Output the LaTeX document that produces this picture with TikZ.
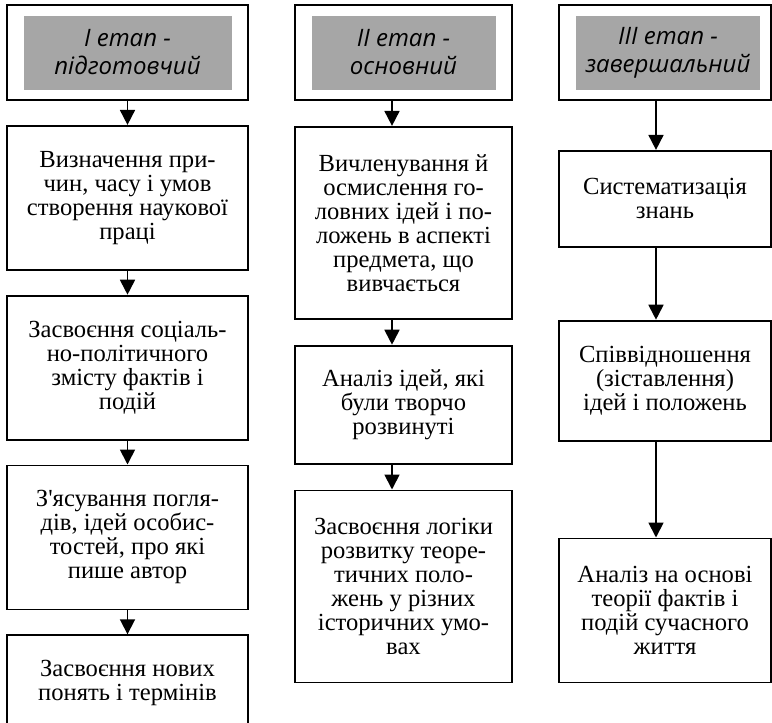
\documentclass[tikz,border=0pt]{standalone}
\usepackage{fontspec}
\setmainfont{Liberation Serif}
\newfontfamily\headfont{Open Sans}
\usetikzlibrary{positioning,arrows.meta}
\definecolor{headC}{HTML}{A6A6A6}
\newcommand{\bodysize}{\fontsize{24.6}{24}\selectfont}
\tikzset{
  stagebox/.style={draw, line width=1.8pt, minimum height=95pt, inner sep=0pt},
  headfill/.style={fill=headC, minimum height=74pt, inner sep=0pt, align=center,
                   font=\headfont\itshape\fontsize{24}{28}\selectfont},
  box/.style={draw, line width=1.8pt, align=center, inner sep=0pt, font=\bodysize},
  flow/.style={-{Triangle[length=15pt,width=15pt]}, line width=1.8pt},
}
\begin{document}
\begin{tikzpicture}[x=1pt, y=-1pt, node distance=24pt]
\useasboundingbox (0,0) rectangle (772,723);
% stage headers
\node[stagebox, minimum width=241pt] (fr1) at (127.5,52.5) {};
\node[headfill, minimum width=208pt] (hd1) at (fr1) {I етап -\\підготовчий};
\node[stagebox, minimum width=217pt] (fr2) at (403.5,52.5) {};
\node[headfill, minimum width=184pt] (hd2) at (fr2) {II етап -\\основний};
\node[stagebox, minimum width=212pt] (fr3) at (665,52.5) {};
\node[headfill, minimum width=184pt, xshift=3pt] (hd3) at (fr3) {III етап -\\завершальний};

% column 1
\node[box, minimum width=241pt, minimum height=144pt, below=of fr1] (b11)
  {Визначення при-\\чин, часу і умов\\створення наукової\\праці};
\node[box, minimum width=241pt, minimum height=144pt, below=of b11] (b12)
  {Засвоєння соціаль-\\но-політичного\\змісту фактів і\\подій};
\node[box, minimum width=241pt, minimum height=144pt, below=of b12] (b13)
  {З\textquotesingle ясування погля-\\дів, ідей особис-\\тостей, про які\\пише автор};
\node[box, minimum width=241pt, minimum height=96pt, below=of b13] (b14)
  {Засвоєння нових\\понять і термінів};

% column 2
\node[box, minimum width=217pt, minimum height=192pt, below=25pt of fr2] (b21)
  {Вичленування й\\осмислення го-\\ловних ідей і по-\\ложень в аспекті\\предмета, що\\вивчається};
\node[box, minimum width=217pt, minimum height=118pt, below=25pt of b21] (b22)
  {Аналіз ідей, які\\були творчо\\розвинуті};
\node[box, minimum width=217pt, minimum height=192pt, below=25pt of b22] (b23)
  {Засвоєння логіки\\розвитку теоре-\\тичних поло-\\жень у різних\\історичних умо-\\вах};

% column 3
\node[box, minimum width=212pt, minimum height=96pt, below=49pt of fr3] (b31)
  {Систематизація\\знань};
\node[box, minimum width=212pt, minimum height=120pt, below=72pt of b31] (b32)
  {Співвідношення\\(зіставлення)\\ідей і положень};
\node[box, minimum width=212pt, minimum height=144pt, below=96pt of b32] (b33)
  {Аналіз на основі\\теорії фактів і\\подій сучасного\\життя};

% arrows
\coordinate (ax2) at (392,0);
\coordinate (ax3) at (656,0);
\draw[flow] (fr1) -- (b11);
\draw[flow] (b11) -- (b12);
\draw[flow] (b12) -- (b13);
\draw[flow] (b13) -- (b14);
\draw[flow] (fr2.south -| ax2) -- (b21.north -| ax2);
\draw[flow] (b21.south -| ax2) -- (b22.north -| ax2);
\draw[flow] (b22.south -| ax2) -- (b23.north -| ax2);
\draw[flow] (fr3.south -| ax3) -- (b31.north -| ax3);
\draw[flow] (b31.south -| ax3) -- (b32.north -| ax3);
\draw[flow] (b32.south -| ax3) -- (b33.north -| ax3);
\end{tikzpicture}
\end{document}
